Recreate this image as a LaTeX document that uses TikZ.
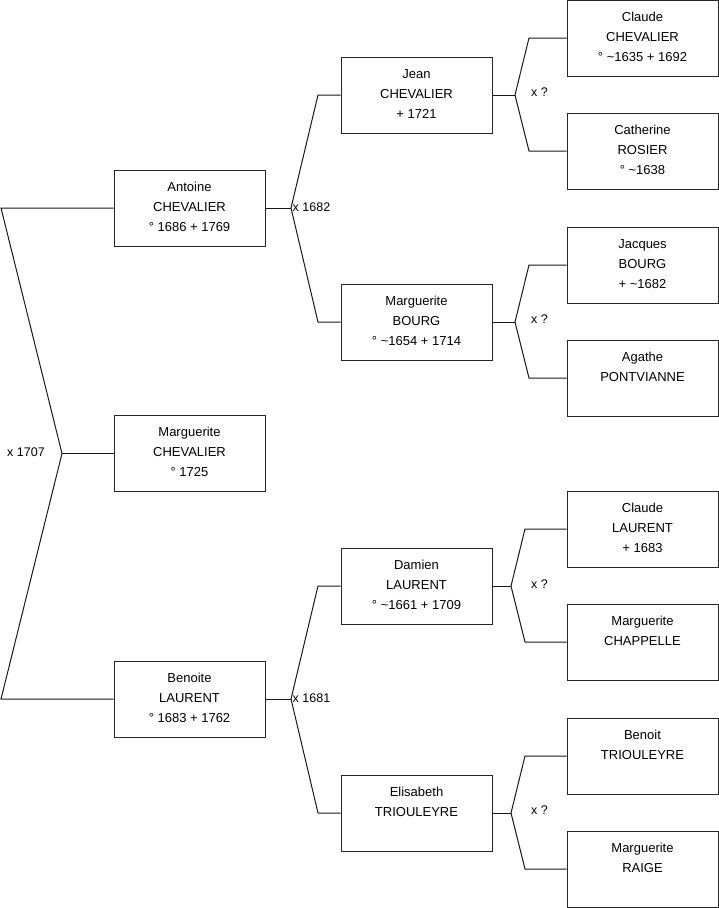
\documentclass[tikz,border=0pt]{standalone}
\usepackage{fontspec}
\setmainfont{Liberation Sans}
\newcommand{\pstrut}{\rule[-7pt]{0pt}{20pt}}
\newcommand{\pp}[3]{\pstrut #1\\\pstrut #2\\\pstrut #3}
\begin{document}
\begin{tikzpicture}[x=1pt,y=-1pt,
  person/.style={draw=black!85, line width=1pt, minimum width=151pt, minimum height=76pt,
    inner sep=0pt, align=center, font=\fontsize{13}{20}\selectfont},
  link/.style={draw=black!90, line width=1pt},
  union/.style={anchor=west, inner sep=0pt, font=\fontsize{12.5}{15}\selectfont}]
\useasboundingbox (0,0) rectangle (719,908);
% generation 1
\node[person] (antoine) at (189.5,208) {\pp{Antoine}{CHEVALIER}{° 1686 + 1769}};
\node[person] (margc) at (189.5,453.5) {\pp{Marguerite}{CHEVALIER}{° 1725}};
\node[person] (benoite) at (189.5,699) {\pp{Benoite}{LAURENT}{° 1683 + 1762}};
% generation 2
\node[person] (jean) at (416.5,95) {\pp{Jean}{CHEVALIER}{+ 1721}};
\node[person] (margb) at (416.5,322) {\pp{Marguerite}{BOURG}{° \textasciitilde1654 + 1714}};
\node[person] (damien) at (416.5,586) {\pp{Damien}{LAURENT}{° \textasciitilde1661 + 1709}};
\node[person] (elisabeth) at (416.5,813) {\pp{Elisabeth}{TRIOULEYRE}{}};
% generation 3
\node[person] (claudec) at (642.5,38) {\pp{Claude}{CHEVALIER}{° \textasciitilde1635 + 1692}};
\node[person] (catherine) at (642.5,151) {\pp{Catherine}{ROSIER}{° \textasciitilde1638}};
\node[person] (jacques) at (642.5,265) {\pp{Jacques}{BOURG}{+ \textasciitilde1682}};
\node[person] (agathe) at (642.5,378) {\pp{Agathe}{PONTVIANNE}{}};
\node[person] (claudel) at (642.5,529) {\pp{Claude}{LAURENT}{+ 1683}};
\node[person] (margch) at (642.5,642) {\pp{Marguerite}{CHAPPELLE}{}};
\node[person] (benoit) at (642.5,756) {\pp{Benoit}{TRIOULEYRE}{}};
\node[person] (margr) at (642.5,869) {\pp{Marguerite}{RAIGE}{}};
% union 0
\coordinate (u0t) at (1,208);
\coordinate (u0) at (62,453.5);
\coordinate (u0b) at (1,699);
\draw[link] (antoine.west) -- (u0t) -- (u0) -- (u0b) -- (benoite.west);
\draw[link] (u0) -- (margc.west);
\node[union] (l0) at (7,452) {x 1707};
% union 1
\coordinate (u1) at (291,208);
\coordinate (u1t) at (318,95);
\coordinate (u1b) at (318,322);
\draw[link] (antoine.east) -- (u1);
\draw[link] (jean.west) -- (u1t) -- (u1) -- (u1b) -- (margb.west);
\node[union] (l1) at (292.5,207) {x 1682};
% union 2
\coordinate (u2) at (291,699);
\coordinate (u2t) at (318,586);
\coordinate (u2b) at (318,813);
\draw[link] (benoite.east) -- (u2);
\draw[link] (damien.west) -- (u2t) -- (u2) -- (u2b) -- (elisabeth.west);
\node[union] (l2) at (292.5,698) {x 1681};
% union 3
\coordinate (u3) at (515,95);
\coordinate (u3t) at (529,38);
\coordinate (u3b) at (529,151);
\draw[link] (jean.east) -- (u3);
\draw[link] (claudec.west) -- (u3t) -- (u3) -- (u3b) -- (catherine.west);
\node[union] (l3) at (531,92) {x ?};
% union 4
\coordinate (u4) at (515,322);
\coordinate (u4t) at (529,265);
\coordinate (u4b) at (529,378);
\draw[link] (margb.east) -- (u4);
\draw[link] (jacques.west) -- (u4t) -- (u4) -- (u4b) -- (agathe.west);
\node[union] (l4) at (531,319) {x ?};
% union 5
\coordinate (u5) at (511,586);
\coordinate (u5t) at (525,529);
\coordinate (u5b) at (525,642);
\draw[link] (damien.east) -- (u5);
\draw[link] (claudel.west) -- (u5t) -- (u5) -- (u5b) -- (margch.west);
\node[union] (l5) at (531,584) {x ?};
% union 6
\coordinate (u6) at (511,813);
\coordinate (u6t) at (525,756);
\coordinate (u6b) at (525,869);
\draw[link] (elisabeth.east) -- (u6);
\draw[link] (benoit.west) -- (u6t) -- (u6) -- (u6b) -- (margr.west);
\node[union] (l6) at (531,810) {x ?};
\end{tikzpicture}
\end{document}
